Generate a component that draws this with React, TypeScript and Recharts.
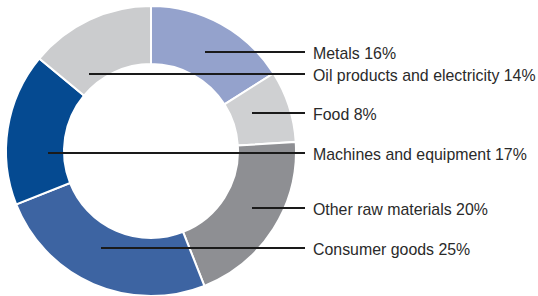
import { PieChart, Pie, Cell } from 'recharts';

const categories = [
  'Metals',
  'Food',
  'Other raw materials',
  'Consumer goods',
  'Machines and equipment',
  'Oil products and electricity',
];
const shares = [16, 8, 20, 25, 17, 14];
const colors = ['#94a2cc', '#cfd0d2', '#8e8f93', '#3d64a2', '#054a91', '#cbccce'];

// callout layout: where each leader line starts and at which height its text sits
const calloutStartX = [205, 252, 252, 101, 48, 89];
const calloutY = [52, 113, 208, 248, 153, 74];
const LINE_END_X = 305;
const TEXT_X = 313;

const data = categories.map((name, i) => ({ name, value: shares[i] }));

function Callout(props: any) {
  const i = props.index;
  const y = calloutY[i];
  return (
    <g>
      <line x1={calloutStartX[i]} y1={y} x2={LINE_END_X} y2={y} stroke="#1a1a1a" strokeWidth={2} />
      <text
        x={TEXT_X}
        y={y}
        dy="0.42em"
        fontSize={15.9}
        fill="#2a2a2a"
        fontFamily="'Liberation Sans', Arial, sans-serif"
        textAnchor="start"
      >
        {`${data[i].name} ${data[i].value}%`}
      </text>
    </g>
  );
}

export default function App() {
  return (
    <div style={{ position: 'absolute', left: 0, top: 0, width: 538, height: 296, background: '#fff' }}>
      <PieChart width={538} height={296} margin={{ top: 0, right: 0, bottom: 0, left: 0 }}>
        <Pie
          data={data}
          dataKey="value"
          cx={151}
          cy={151}
          innerRadius={87}
          outerRadius={145}
          startAngle={90}
          endAngle={-270}
          stroke="#fff"
          strokeWidth={2}
          label={Callout}
          labelLine={false}
          isAnimationActive={false}
        >
          {data.map((d, i) => (
            <Cell key={d.name} fill={colors[i]} />
          ))}
        </Pie>
      </PieChart>
    </div>
  );
}
